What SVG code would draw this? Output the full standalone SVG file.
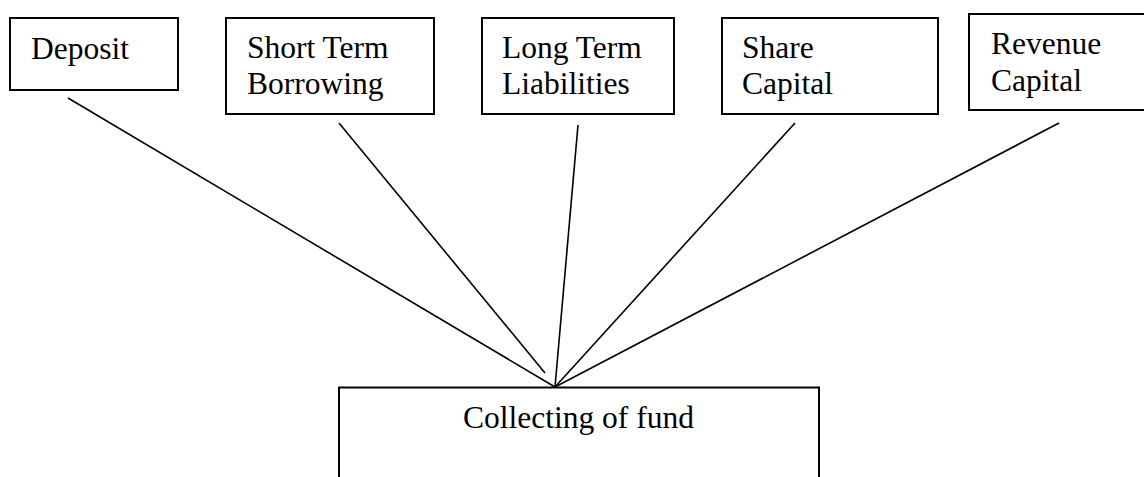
<svg xmlns="http://www.w3.org/2000/svg" width="1144" height="477" viewBox="0 0 1144 477">
  <style>
    .box { fill: #ffffff; stroke: #000000; stroke-width: 2; }
    .lbl { font-family: "Liberation Serif", "Times New Roman", serif; font-size: 31.5px; fill: #000000; }
    .link { stroke: #000000; stroke-width: 1.6; fill: none; }
  </style>
  <rect width="1144" height="477" fill="#ffffff"/>

  <!-- connectors from each source to the central node -->
  <g id="connectors">
    <line class="link" x1="68" y1="98" x2="555" y2="387"/>
    <line class="link" x1="339" y1="123" x2="545" y2="373"/>
    <line class="link" x1="578" y1="125" x2="555" y2="387"/>
    <line class="link" x1="795" y1="123" x2="555" y2="387"/>
    <line class="link" x1="1059" y1="123" x2="555" y2="387"/>
  </g>

  <g id="deposit">
    <rect class="box" x="10" y="18" width="168" height="72"/>
    <text class="lbl" x="31" y="59">Deposit</text>
  </g>

  <g id="short-term-borrowing">
    <rect class="box" x="226" y="18" width="208" height="96"/>
    <text class="lbl" x="247" y="58">Short Term</text>
    <text class="lbl" x="247" y="94">Borrowing</text>
  </g>

  <g id="long-term-liabilities">
    <rect class="box" x="482" y="18" width="192" height="96"/>
    <text class="lbl" x="502" y="58">Long Term</text>
    <text class="lbl" x="502" y="94">Liabilities</text>
  </g>

  <g id="share-capital">
    <rect class="box" x="722" y="18" width="216" height="96"/>
    <text class="lbl" x="742" y="58">Share</text>
    <text class="lbl" x="742" y="94">Capital</text>
  </g>

  <g id="revenue-capital">
    <rect class="box" x="969" y="14" width="190" height="96"/>
    <text class="lbl" x="991" y="54">Revenue</text>
    <text class="lbl" x="991" y="91">Capital</text>
  </g>

  <g id="collecting-of-fund">
    <rect class="box" x="339" y="387.5" width="480" height="100"/>
    <text class="lbl" x="463" y="428">Collecting of fund</text>
  </g>
</svg>
